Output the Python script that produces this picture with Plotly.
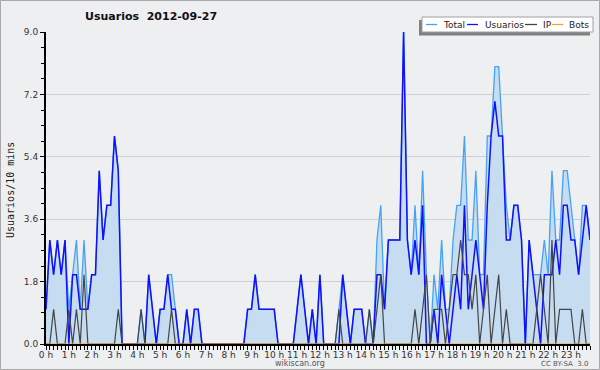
import plotly.graph_objects as go

# ---- data (one value per 10-minute slot, 24 h x 6) ----
hour_labels = ["0 h", "1 h", "2 h", "3 h", "4 h", "5 h", "6 h", "7 h", "8 h", "9 h",
               "10 h", "11 h", "12 h", "13 h", "14 h", "15 h", "16 h", "17 h", "18 h",
               "19 h", "20 h", "21 h", "22 h", "23 h"]

total = [
    1, 3, 2, 3, 2, 3,
    1, 2, 3, 1, 3, 1,
    2, 2, 5, 3, 4, 4,
    6, 5, 0, 0, 0, 0,
    0, 1, 0, 2, 1, 0,
    1, 1, 2, 2, 1, 0,
    0, 1, 0, 1, 1, 0,
    0, 0, 0, 0, 0, 0,
    0, 0, 0, 0, 0, 1,
    1, 2, 1, 1, 1, 1,
    1, 0, 0, 0, 0, 0,
    1, 2, 1, 0, 1, 0,
    2, 0, 0, 0, 0, 1,
    2, 1, 0, 1, 1, 1,
    0, 1, 0, 3, 4, 1,
    3, 3, 3, 3, 9, 3,
    2, 4, 2, 5, 2, 0,
    2, 1, 3, 1, 1, 3,
    4, 4, 6, 3, 3, 5,
    2, 2, 6, 6, 8, 8,
    6, 4, 3, 4, 4, 3,
    0, 3, 2, 2, 2, 3,
    2, 5, 3, 3, 5, 5,
    4, 3, 2, 4, 4, 3,
]

usuarios = [
    1, 3, 2, 3, 2, 3,
    0, 2, 2, 1, 1, 1,
    2, 2, 5, 3, 4, 4,
    6, 5, 0, 0, 0, 0,
    0, 0, 0, 2, 1, 0,
    1, 1, 2, 1, 1, 0,
    0, 1, 0, 1, 1, 0,
    0, 0, 0, 0, 0, 0,
    0, 0, 0, 0, 0, 1,
    1, 2, 1, 1, 1, 1,
    1, 0, 0, 0, 0, 0,
    1, 2, 1, 0, 1, 0,
    2, 0, 0, 0, 0, 0,
    2, 1, 0, 1, 1, 1,
    0, 0, 0, 2, 2, 1,
    3, 3, 3, 3, 9, 3,
    2, 3, 2, 4, 0, 0,
    1, 0, 2, 1, 0, 1,
    2, 1, 4, 1, 2, 3,
    2, 1, 4, 6, 7, 6,
    6, 3, 3, 4, 4, 3,
    0, 3, 2, 1, 0, 2,
    2, 2, 3, 2, 4, 4,
    3, 3, 2, 3, 4, 3,
]

ip = [
    0, 0, 1, 0, 0, 0,
    1, 0, 1, 0, 2, 0,
    0, 0, 0, 0, 0, 0,
    0, 1, 0, 0, 0, 0,
    0, 1, 0, 0, 0, 0,
    0, 0, 0, 1, 0, 0,
    0, 0, 0, 0, 0, 0,
    0, 0, 0, 0, 0, 0,
    0, 0, 0, 0, 0, 0,
    0, 0, 0, 0, 0, 0,
    0, 0, 0, 0, 0, 0,
    0, 0, 0, 0, 0, 0,
    0, 0, 0, 0, 0, 1,
    0, 0, 0, 0, 0, 0,
    0, 1, 0, 1, 2, 0,
    0, 0, 0, 0, 0, 0,
    0, 1, 0, 1, 2, 0,
    1, 1, 1, 0, 1, 2,
    2, 3, 2, 2, 1, 2,
    0, 1, 2, 0, 1, 2,
    0, 1, 0, 0, 0, 0,
    0, 0, 0, 1, 2, 1,
    0, 3, 0, 1, 1, 1,
    1, 0, 0, 1, 0, 0,
]

bots = [
    0, 0, 0, 0, 0, 0,  0, 0, 0, 0, 0, 0,  0, 0, 0, 0, 0, 0,  0, 0, 0, 0, 0, 0,
    0, 0, 0, 0, 0, 0,  0, 0, 0, 0, 0, 0,  0, 0, 0, 0, 0, 0,  0, 0, 0, 0, 0, 0,
    0, 0, 0, 0, 0, 0,  0, 0, 0, 0, 0, 0,  0, 0, 0, 0, 0, 0,  0, 0, 0, 0, 0, 0,
    0, 0, 0, 0, 0, 0,  0, 0, 0, 0, 0, 0,  0, 0, 0, 0, 0, 0,  0, 0, 0, 0, 0, 0,
    0, 0, 0, 0, 0, 0,  0, 0, 0, 0, 0, 0,  0, 0, 0, 0, 0, 0,  0, 0, 0, 0, 0, 0,
    0, 0, 0, 0, 0, 0,  0, 0, 0, 0, 0, 0,  0, 0, 0, 0, 0, 0,  0, 0, 0, 0, 0, 0,
]

y_tick_vals = [0.0, 1.8, 3.6, 5.4, 7.2, 9.0]
y_tick_text = ["0.0", "1.8", "3.6", "5.4", "7.2", "9.0"]

# ---- geometry ----
W, H = 600, 370
ML, MR, MT, MB = 46, 10, 32, 26
PW, PH = W - ML - MR, H - MT - MB


def px(x):
    return (x - ML) / PW


def py(y):
    return (H - MB - y) / PH


slots = list(range(len(usuarios)))
hour_pos = [6 * k for k in range(len(hour_labels))]

C_TOTAL = "#45a2f7"
C_USERS = "#1010ff"
C_IP = "#454545"
C_BOTS = "#ffa31a"
BG = "#eeeff1"
FONT = "DejaVu Sans"

fig = go.Figure()
fig.add_trace(go.Scatter(x=slots, y=total, mode="lines", name="Total",
                         line=dict(color=C_TOTAL, width=1.3),
                         fill="tozeroy", fillcolor="#c6dcf0"))
fig.add_trace(go.Scatter(x=slots, y=usuarios, mode="lines", name="Usuarios",
                         line=dict(color=C_USERS, width=1.5)))
fig.add_trace(go.Scatter(x=slots, y=ip, mode="lines", name="IP",
                         line=dict(color=C_IP, width=1.2)))
fig.add_trace(go.Scatter(x=slots, y=bots, mode="lines", name="Bots",
                         line=dict(color=C_BOTS, width=1.2)))

shapes = []
annotations = []

# outer frame
shapes.append(dict(type="rect", xref="paper", yref="paper",
                   x0=px(0.5), x1=px(599.5), y0=py(369.5), y1=py(0.5),
                   line=dict(color="#a8a8a8", width=1), layer="below"))

# custom legend (shadow + box + entries)
shapes.append(dict(type="rect", xref="paper", yref="paper",
                   x0=px(419), x1=px(590), y0=py(35.5), y1=py(20),
                   line=dict(width=0), fillcolor="#808080", layer="above"))
shapes.append(dict(type="rect", xref="paper", yref="paper",
                   x0=px(422), x1=px(593), y0=py(32), y1=py(17),
                   line=dict(color="#a0a0a0", width=1), fillcolor="#ffffff", layer="above"))
legend_items = [("Total", C_TOTAL, 426, 437, 441),
                ("Usuarios", C_USERS, 467, 478, 483),
                ("IP", C_IP, 525, 537, 541),
                ("Bots", C_BOTS, 552, 563, 567)]
for name, col, lx0, lx1, tx in legend_items:
    shapes.append(dict(type="line", xref="paper", yref="paper",
                       x0=px(lx0), x1=px(lx1), y0=py(24.5), y1=py(24.5),
                       line=dict(color=col, width=1.3), layer="above"))
    annotations.append(dict(text=name, xref="paper", yref="paper",
                            x=px(tx), y=py(24.5), xanchor="left", yanchor="middle",
                            showarrow=False, font=dict(family=FONT, size=9, color="#222")))

# title
annotations.append(dict(text="<b>Usuarios  2012-09-27</b>", xref="paper", yref="paper",
                        x=px(151), y=py(17), xanchor="center", yanchor="middle",
                        showarrow=False, font=dict(family=FONT, size=11, color="#111")))
# y-axis title
annotations.append(dict(text="Usuarios/10 mins", xref="paper", yref="paper",
                        x=px(10), y=py(190), xanchor="center", yanchor="middle",
                        textangle=-90, showarrow=False,
                        font=dict(family="DejaVu Sans Mono", size=10, color="#222")))
# footer
annotations.append(dict(text="wikiscan.org", xref="paper", yref="paper",
                        x=px(300), y=py(363), xanchor="center", yanchor="middle",
                        showarrow=False, font=dict(family=FONT, size=8, color="#555")))
annotations.append(dict(text="CC BY-SA  3.0", xref="paper", yref="paper",
                        x=px(590), y=py(364), xanchor="right", yanchor="middle",
                        showarrow=False, font=dict(family=FONT, size=7, color="#555")))

fig.update_layout(
    width=W, height=H,
    margin=dict(l=ML, r=MR, t=MT, b=MB, pad=0, autoexpand=False),
    paper_bgcolor=BG, plot_bgcolor=BG,
    showlegend=False,
    shapes=shapes, annotations=annotations,
    xaxis=dict(range=[0, len(usuarios) - 1], tickmode="array",
               tickvals=hour_pos, ticktext=hour_labels, automargin=False,
               ticks="outside", ticklen=4, tickcolor="#000", tickwidth=1,
               ticklabelstandoff=-3,
               showline=True, linecolor="#000", linewidth=2,
               showgrid=False, zeroline=False,
               minor=dict(dtick=1, tick0=0, ticks="outside", ticklen=4,
                          tickcolor="#000", tickwidth=1, showgrid=False),
               tickfont=dict(family=FONT, size=9, color="#333")),
    yaxis=dict(range=[0, 9], tickmode="array",
               tickvals=y_tick_vals, ticktext=y_tick_text, automargin=False,
               ticks="outside", ticklen=4, tickcolor="#000", tickwidth=1,
               showline=True, linecolor="#000", linewidth=2,
               showgrid=True, gridcolor="#cfd0d2", gridwidth=1,
               zeroline=False,
               minor=dict(dtick=0.45, tick0=0, ticks="outside", ticklen=3,
                          tickcolor="#000", tickwidth=1, showgrid=False),
               tickfont=dict(family=FONT, size=9, color="#333")),
)

fig.write_html("out.html",
               config={"displayModeBar": False},
               post_script="document.body.style.margin='0';document.body.style.padding='0';")
